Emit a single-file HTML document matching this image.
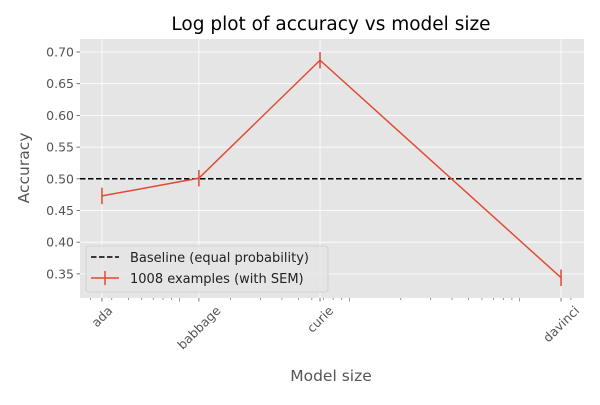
<!DOCTYPE html>
<html><head><meta charset="utf-8"><style>
body{margin:0;background:#fff;font-family:"Liberation Sans","DejaVu Sans",sans-serif}
</style></head><body>
<svg id="c" width="600" height="400" xmlns="http://www.w3.org/2000/svg" font-family="DejaVu Sans, Liberation Sans, sans-serif"></svg>
<script>
const models=["ada","babbage","curie","davinci"];
const sizes=[3.5e8,1.3e9,6.7e9,1.75e11];
const accuracy=[0.473,0.501,0.687,0.344];
const sem=[0.013,0.013,0.013,0.013];
const baseline=0.5;
const yTicks=[0.35,0.40,0.45,0.50,0.55,0.60,0.65,0.70];
const L=80,R=584,T=39,B=298;
const lx0=8.415,lx1=11.378,y0=0.312,y1=0.7205;
const X=v=>L+(Math.log10(v)-lx0)/(lx1-lx0)*(R-L);
const Y=v=>B-(v-y0)/(y1-y0)*(B-T);
const svg=document.getElementById('c');const NS='http://www.w3.org/2000/svg';
function el(t,a,txt){const e=document.createElementNS(NS,t);for(const k in a)e.setAttribute(k,a[k]);if(txt!==undefined)e.textContent=txt;svg.appendChild(e);return e;}
let e;
e=el('rect',{x:L,y:T,width:R-L,height:B-T,fill:'#e5e5e5'});

yTicks.forEach(v=>{const y=Y(v);
e=el('line',{x1:L,x2:R,y1:y,y2:y,stroke:'#fff','stroke-width':0.8});

e=el('line',{x1:L-3.5,x2:L,y1:y,y2:y,stroke:'#555','stroke-width':0.8});

e=el('text',{x:L-6,y:y+4.5,'text-anchor':'end','font-size':12.5,fill:'#555'},v.toFixed(2));
});
for(let k=8;k<=11;k++)for(let m=1;m<=9;m++){const v=m*Math.pow(10,k);const x=X(v);if(x<L||x>R)continue;
e=el('line',{x1:x,x2:x,y1:B,y2:B+(m==1?3.5:2),stroke:'#555','stroke-width':0.6});
}
models.forEach((m,i)=>{const x=X(sizes[i]);
e=el('line',{x1:x,x2:x,y1:T,y2:B,stroke:'#fff','stroke-width':0.8});

e=el('line',{x1:x,x2:x,y1:B,y2:B+3.5,stroke:'#555','stroke-width':0.8});

e=el('text',{x:x,y:0,'text-anchor':'middle','font-size':12.5,fill:'#555'},m);

const w=e.getComputedTextLength(),h=12;
const cy=B+6+(w+h)*0.7071/2;
e.setAttribute('y',cy+4.5);
e.setAttribute('transform',`rotate(-45 ${x} ${cy})`);});
e=el('line',{x1:L,x2:R,y1:Y(baseline),y2:Y(baseline),stroke:'#000','stroke-width':1.5,'stroke-dasharray':'5.5,2.5'});

e=el('polyline',{points:sizes.map((s,i)=>X(s)+','+Y(accuracy[i])).join(' '),fill:'none',stroke:'#e24a33','stroke-width':1.5});

sizes.forEach((s,i)=>{const x=X(s);
e=el('line',{x1:x,x2:x,y1:Y(accuracy[i]-sem[i]),y2:Y(accuracy[i]+sem[i]),stroke:'#e24a33','stroke-width':1.5});
});
e=el('rect',{x:86,y:246,width:242,height:46,rx:3,fill:'#e5e5e5',stroke:'#ccc','stroke-width':0.8,'fill-opacity':0.8});

e=el('line',{x1:91,x2:119,y1:257,y2:257,stroke:'#000','stroke-width':1.5,'stroke-dasharray':'5.5,2.5'});

e=el('text',{x:130,y:262,'font-size':13,fill:'#222'},'Baseline (equal probability)');

e=el('line',{x1:91,x2:119,y1:278,y2:278,stroke:'#e24a33','stroke-width':1.5});

e=el('line',{x1:105,x2:105,y1:271,y2:285,stroke:'#e24a33','stroke-width':1.5});

e=el('text',{x:130,y:283,'font-size':13,fill:'#222'},'1008 examples (with SEM)');

e=el('text',{x:331,y:30,'text-anchor':'middle','font-size':18.5,fill:'#000'},'Log plot of accuracy vs model size');

e=el('text',{x:331,y:381,'text-anchor':'middle','font-size':15.5,fill:'#555'},'Model size');

e=el('text',{x:29,y:168,'text-anchor':'middle','font-size':15.5,fill:'#555',transform:'rotate(-90 29 168)'},'Accuracy');

</script>
</body></html>
